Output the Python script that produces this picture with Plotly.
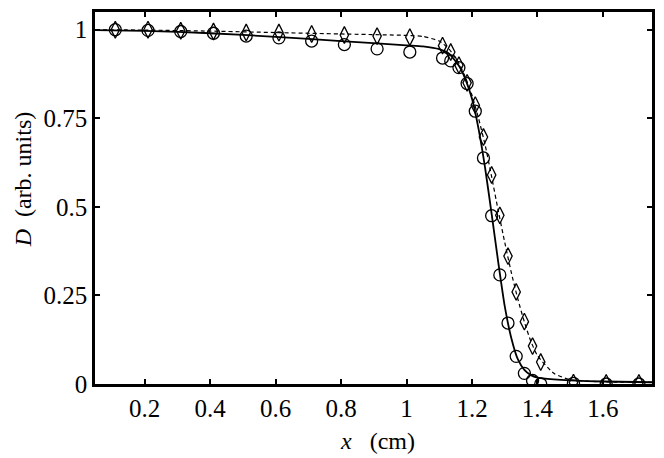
import plotly.graph_objects as go

# measured points (circles = solid fit, diamonds = dashed fit)
x_pts = [0.11, 0.21, 0.31, 0.41, 0.51, 0.61, 0.71, 0.81, 0.91, 1.01,
         1.11, 1.135, 1.16, 1.185, 1.21, 1.235, 1.26, 1.285, 1.31, 1.335, 1.36, 1.385, 1.41,
         1.51, 1.61, 1.71]
d_circles = [1.0, 0.998, 0.995, 0.99, 0.982, 0.977, 0.968, 0.958, 0.946, 0.937,
             0.92, 0.912, 0.893, 0.848, 0.77, 0.638, 0.475, 0.308, 0.172, 0.078, 0.03, 0.01, 0.0,
             0.002, 0.0, 0.0]
d_diamonds = [1.0, 1.0, 0.997, 0.995, 0.992, 0.992, 0.988, 0.985, 0.982, 0.979,
              0.955, 0.937, 0.90, 0.85, 0.787, 0.697, 0.59, 0.476, 0.361, 0.26, 0.176, 0.107, 0.062,
              0.004, 0.003, 0.003]

# fitted curves
fit_x = [0.05, 0.2, 0.4, 0.6, 0.8, 1.0, 1.05, 1.1, 1.13, 1.16, 1.18, 1.2, 1.22, 1.24,
         1.26, 1.28, 1.3, 1.32, 1.34, 1.36, 1.38, 1.4, 1.45, 1.5, 1.6, 1.75]
fit_solid = [0.999, 0.997, 0.99, 0.98, 0.968, 0.956, 0.953, 0.945, 0.932, 0.898, 0.86, 0.805, 0.72, 0.61,
             0.48, 0.345, 0.22, 0.13, 0.07, 0.04, 0.025, 0.018, 0.013, 0.01, 0.007, 0.005]
fit_dashed = [1.0, 0.999, 0.996, 0.992, 0.988, 0.984, 0.981, 0.968, 0.945, 0.905, 0.865, 0.815, 0.75, 0.675,
              0.585, 0.49, 0.4, 0.315, 0.24, 0.175, 0.12, 0.08, 0.03, 0.012, 0.006, 0.005]

x_ticks = [0.2, 0.4, 0.6, 0.8, 1.0, 1.2, 1.4, 1.6]
x_labels = ["0.2", "0.4", "0.6", "0.8", "1", "1.2", "1.4", "1.6"]
y_ticks = [0, 0.25, 0.5, 0.75, 1]
y_labels = ["0", "0.25", "0.5", "0.75", "1"]

font = dict(family="Liberation Serif", size=24, color="black")
tick_font = dict(family="Liberation Serif", size=25, color="black")

fig = go.Figure()
fig.add_trace(go.Scatter(x=fit_x, y=fit_dashed, mode="lines",
                         line=dict(color="black", width=1.2, dash="4px,3px", shape="spline", smoothing=0.5)))
fig.add_trace(go.Scatter(x=fit_x, y=fit_solid, mode="lines",
                         line=dict(color="black", width=1.8, shape="spline", smoothing=0.5)))
fig.add_trace(go.Scatter(x=x_pts, y=d_diamonds, mode="markers",
                         marker=dict(symbol="diamond-tall-open", size=12, color="black", line=dict(width=1.3))))
fig.add_trace(go.Scatter(x=x_pts, y=d_circles, mode="markers",
                         marker=dict(symbol="circle-open", size=12, color="black", line=dict(width=1.3))))

axis = dict(showgrid=False, zeroline=False, showline=True, linecolor="black", linewidth=2.5,
            mirror="ticks", ticks="inside", ticklen=5, tickwidth=1.5, tickcolor="black", tickfont=tick_font)
fig.update_xaxes(range=[0.048, 1.75], tickvals=x_ticks, ticktext=x_labels, **axis)
fig.update_yaxes(range=[0, 1.05], tickvals=y_ticks, ticktext=y_labels, **axis)

fig.update_layout(
    width=664, height=458, showlegend=False,
    plot_bgcolor="white", paper_bgcolor="white", font=font,
    margin=dict(l=95, r=11, t=9, b=74),
    annotations=[
        dict(text="<i>x</i>&nbsp;&nbsp;&nbsp;(cm)", xref="paper", yref="paper", x=0.507, y=-0.152,
             xanchor="center", yanchor="middle", showarrow=False, font=font),
        dict(text="<i>D</i>&nbsp;&nbsp;(arb. units)", xref="paper", yref="paper", x=-0.13, y=0.549,
             xanchor="center", yanchor="middle", textangle=-90, showarrow=False, font=font),
    ],
)

fig.write_html("out.html", config={"displayModeBar": False},
               post_script="document.body.style.margin='0';")
